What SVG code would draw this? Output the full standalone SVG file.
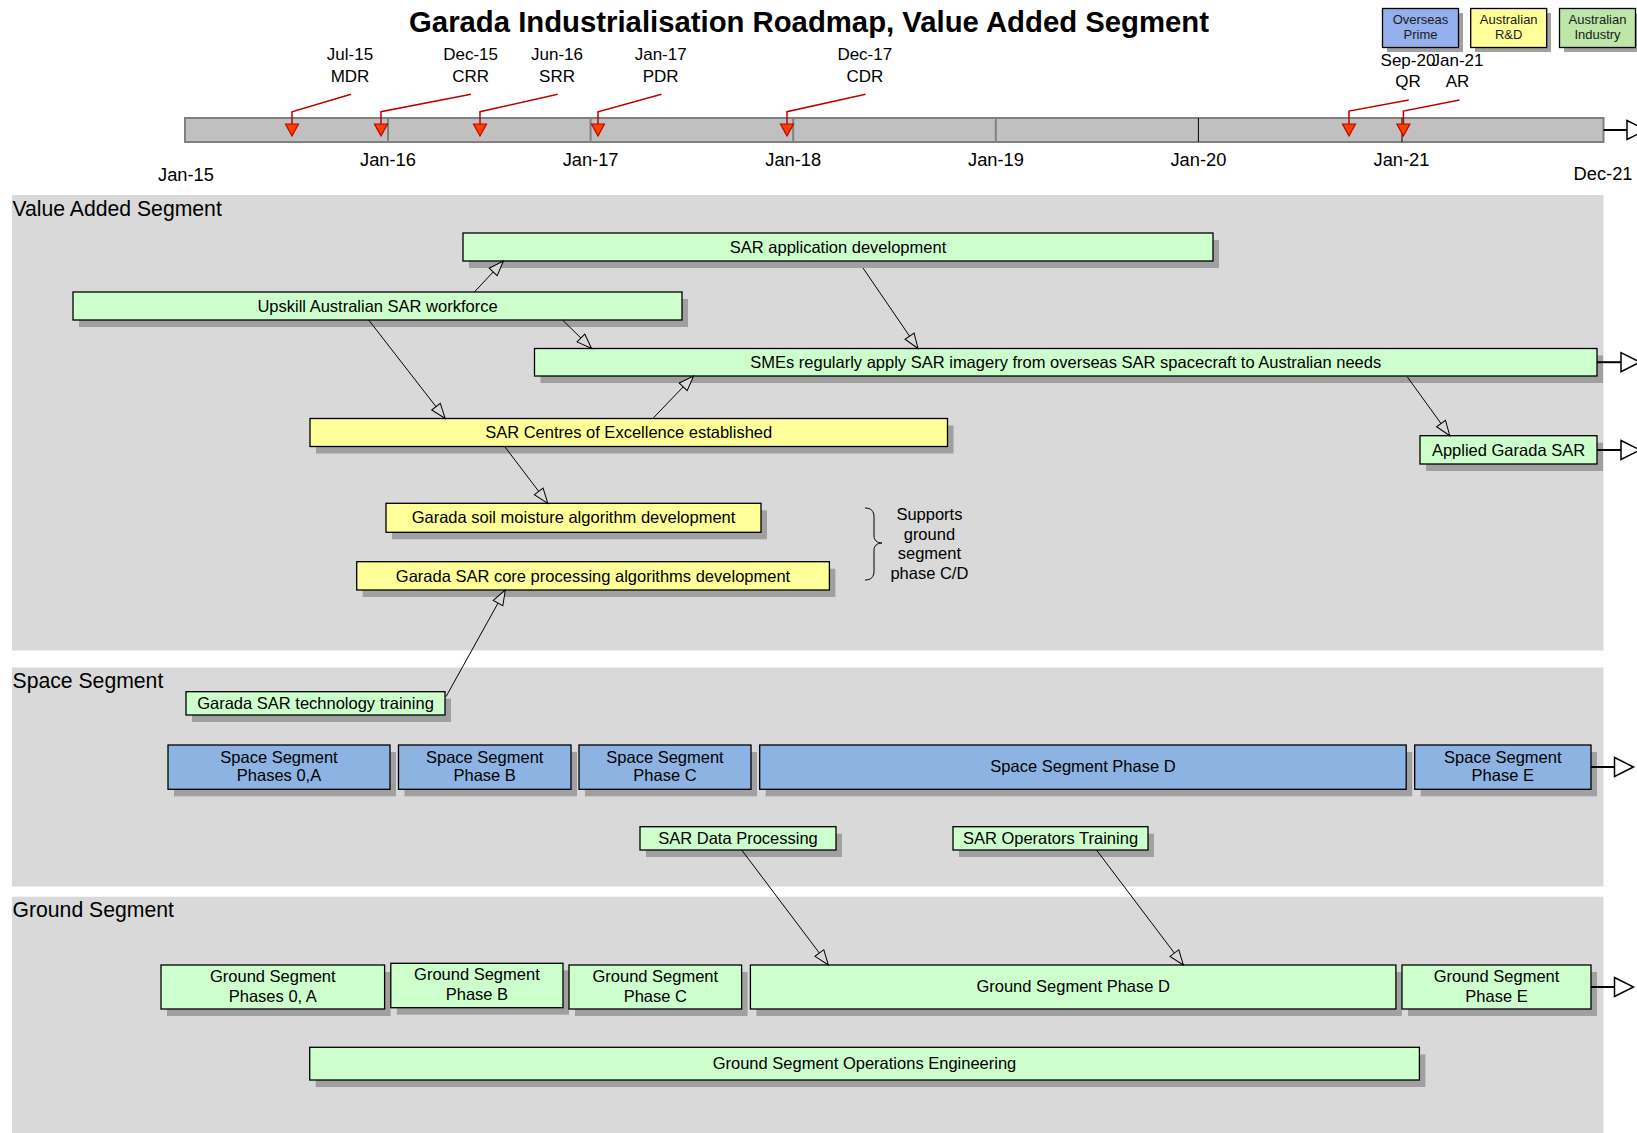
<svg xmlns="http://www.w3.org/2000/svg" width="1637" height="1133" viewBox="0 0 1637 1133">
<style>
text{font-family:"Liberation Sans",Arial,sans-serif;fill:#000}
.t{font-size:16.5px;text-anchor:middle}
.yl{font-size:18.3px;text-anchor:middle}
.ml{font-size:17px;text-anchor:middle}
.lg{font-size:13px;text-anchor:middle;fill:#1a1a1a}
.ln{font-size:21.2px}
.lane{fill:#d9d9d9}
.sh{fill:#a0a0a0}
.g{fill:#ccffcc;stroke:#000;stroke-width:1.3}
.y{fill:#ffff99;stroke:#000;stroke-width:1.3}
.b{fill:#8db3e2;stroke:#000;stroke-width:1.3}
.c{stroke:#000;stroke-width:1;fill:none;marker-end:url(#oa)}
.e{stroke:#000;stroke-width:2;fill:none;marker-end:url(#ba)}
.tri{fill:#ff4000;stroke:#c00000;stroke-width:1.2}
.ld{fill:none;stroke:#c00000;stroke-width:1.5}
.dv{stroke:#808080;stroke-width:2}
.dk{stroke:#000;stroke-width:1}
</style>
<defs>
<marker id="oa" markerUnits="userSpaceOnUse" markerWidth="18" markerHeight="14" refX="15.5" refY="6" orient="auto" overflow="visible">
<path d="M0.5,0.5 L15.5,6 L0.5,11.5 Z" fill="#d9d9d9" stroke="#000" stroke-width="1"/>
</marker>
<marker id="ba" markerUnits="userSpaceOnUse" markerWidth="22" markerHeight="22" refX="0" refY="10" orient="auto" overflow="visible">
<path d="M0,0.5 L19,10 L0,19.5 Z" fill="#fff" stroke="#000" stroke-width="1.5"/>
</marker>
</defs>
<rect width="1637" height="1133" fill="#fff"/>

<text x="809" y="31.5" font-size="29.3" font-weight="bold" text-anchor="middle">Garada Industrialisation Roadmap, Value Added Segment</text>

<g id="legend">
<g id="legend-overseas"><rect class="sh" x="1387" y="13" width="76" height="39"/><rect x="1382.5" y="8.5" width="76" height="39" fill="#94b0ee" stroke="#000" stroke-width="1.3"/><text class="lg" x="1420.5" y="24">Overseas</text><text class="lg" x="1420.5" y="38.5">Prime</text></g>
<g id="legend-rd"><rect class="sh" x="1475" y="13" width="76" height="39"/><rect x="1470.7" y="8.5" width="76" height="39" fill="#ffff99" stroke="#000" stroke-width="1.3"/><text class="lg" x="1508.7" y="24">Australian</text><text class="lg" x="1508.7" y="38.5">R&amp;D</text></g>
<g id="legend-industry"><rect class="sh" x="1564" y="13" width="76" height="39"/><rect x="1559.5" y="8.5" width="76" height="39" fill="#bde6a8" stroke="#000" stroke-width="1.3"/><text class="lg" x="1597.5" y="24">Australian</text><text class="lg" x="1597.5" y="38.5">Industry</text></g>
</g>

<g id="timeline">
<rect x="185" y="118" width="1418.5" height="24" fill="#c0c0c0" stroke="#808080" stroke-width="2"/>
<line class="dv" x1="388" y1="118" x2="388" y2="142"/>
<line class="dv" x1="590.6" y1="118" x2="590.6" y2="142"/>
<line class="dv" x1="793.2" y1="118" x2="793.2" y2="142"/>
<line class="dv" x1="995.8" y1="118" x2="995.8" y2="142"/>
<line class="dk" x1="1198.4" y1="118" x2="1198.4" y2="142"/>
<line class="dk" x1="1402" y1="118" x2="1402" y2="142"/>
<text class="yl" x="186" y="180.7">Jan-15</text>
<text class="yl" x="388" y="166">Jan-16</text>
<text class="yl" x="590.6" y="166">Jan-17</text>
<text class="yl" x="793.2" y="166">Jan-18</text>
<text class="yl" x="996" y="166">Jan-19</text>
<text class="yl" x="1198.4" y="166">Jan-20</text>
<text class="yl" x="1401.5" y="166">Jan-21</text>
<text class="yl" x="1603" y="180">Dec-21</text>
</g>

<g id="milestones">
<g id="ms-mdr"><polyline class="ld" points="351,94.3 292,111.7 292,124"/><polygon class="tri" points="285.5,124 298.5,124 292,136"/><text class="ml" x="350" y="60">Jul-15</text><text class="ml" x="350" y="81.7">MDR</text></g>
<g id="ms-crr"><polyline class="ld" points="471,94.3 381,111.7 381,124"/><polygon class="tri" points="374.5,124 387.5,124 381,136"/><text class="ml" x="470.6" y="60">Dec-15</text><text class="ml" x="470.6" y="81.7">CRR</text></g>
<g id="ms-srr"><polyline class="ld" points="557.7,94.3 480,111.7 480,124"/><polygon class="tri" points="473.5,124 486.5,124 480,136"/><text class="ml" x="557" y="60">Jun-16</text><text class="ml" x="557" y="81.7">SRR</text></g>
<g id="ms-pdr"><polyline class="ld" points="661.5,94.3 598,111.7 598,124"/><polygon class="tri" points="591.5,124 604.5,124 598,136"/><text class="ml" x="660.7" y="60">Jan-17</text><text class="ml" x="660.7" y="81.7">PDR</text></g>
<g id="ms-cdr"><polyline class="ld" points="865.6,94.3 787,111.7 787,124"/><polygon class="tri" points="780.5,124 793.5,124 787,136"/><text class="ml" x="864.8" y="60">Dec-17</text><text class="ml" x="864.8" y="81.7">CDR</text></g>
<g id="ms-qr"><polyline class="ld" points="1408.8,100 1349,111 1349,124"/><polygon class="tri" points="1342.5,124 1355.5,124 1349,136"/><text class="ml" x="1408" y="65.7">Sep-20</text><text class="ml" x="1408" y="87.3">QR</text></g>
<g id="ms-ar"><polyline class="ld" points="1459.5,100 1403.4,111 1403.4,124"/><polygon class="tri" points="1396.9,124 1409.9,124 1403.4,136"/><text class="ml" x="1457.5" y="65.7">Jan-21</text><text class="ml" x="1457.5" y="87.3">AR</text></g>
</g>

<g id="lanes">
<g id="lane-va"><rect class="lane" x="12" y="195" width="1591.5" height="455.5"/><text class="ln" x="12.5" y="215.5">Value Added Segment</text></g>
<g id="lane-space"><rect class="lane" x="12" y="667.5" width="1591.5" height="219"/><text class="ln" x="12.5" y="687.5">Space Segment</text></g>
<g id="lane-ground"><rect class="lane" x="12" y="896.7" width="1591.5" height="236.3"/><text class="ln" x="12.5" y="917">Ground Segment</text></g>
</g>

<g id="n-appdev"><rect class="sh" x="469" y="240" width="750" height="28"/><rect class="g" x="463" y="233" width="750" height="28"/><text class="t" x="838" y="252.5">SAR application development</text></g>
<g id="n-upskill"><rect class="sh" x="79" y="299" width="609" height="28"/><rect class="g" x="73" y="292" width="609" height="28"/><text class="t" x="377.5" y="311.5">Upskill Australian SAR workforce</text></g>
<g id="n-smes"><rect class="sh" x="540.5" y="355.5" width="1062.5" height="27.5"/><rect class="g" x="534.5" y="348.5" width="1062.5" height="27.5"/><text class="t" x="1065.7" y="367.5">SMEs regularly apply SAR imagery from overseas SAR spacecraft to Australian needs</text></g>
<g id="n-coe"><rect class="sh" x="316" y="425.5" width="637.5" height="28"/><rect class="y" x="310" y="418.5" width="637.5" height="28"/><text class="t" x="628.7" y="438">SAR Centres of Excellence established</text></g>
<g id="n-applied"><rect class="sh" x="1426" y="442.7" width="177" height="28.3"/><rect class="g" x="1420" y="435.7" width="177" height="28.3"/><text class="t" x="1508.5" y="455.5">Applied Garada SAR</text></g>
<g id="n-soil"><rect class="sh" x="392" y="510.3" width="375" height="29"/><rect class="y" x="386" y="503.3" width="375" height="29"/><text class="t" x="573.5" y="523.3">Garada soil moisture algorithm development</text></g>
<g id="n-core"><rect class="sh" x="362.7" y="568.7" width="472.7" height="28.3"/><rect class="y" x="356.7" y="561.7" width="472.7" height="28.3"/><text class="t" x="593" y="581.5">Garada SAR core processing algorithms development</text></g>
<g id="n-brace">
<path d="M865,508 C871,508 874,511 874,517 L874,536 C874,540 877,543 882,543 C877,543 874,546 874,550 L874,571 C874,577 871,580 865,580" fill="none" stroke="#000" stroke-width="1"/>
<text class="t" x="929.4" y="519.5">Supports</text><text class="t" x="929.4" y="539.5">ground</text><text class="t" x="929.4" y="559">segment</text><text class="t" x="929.4" y="578.7">phase C/D</text>
</g>

<g id="n-training"><rect class="sh" x="192" y="698.7" width="259" height="23.3"/><rect class="g" x="186" y="691.7" width="259" height="23.3"/><text class="t" x="315.5" y="709">Garada SAR technology training</text></g>
<g id="n-ss0a"><rect class="sh" x="174" y="752" width="222" height="44.3"/><rect class="b" x="168" y="745" width="222" height="44.3"/><text class="t" x="279" y="762.5">Space Segment</text><text class="t" x="279" y="781">Phases 0,A</text></g>
<g id="n-ssb"><rect class="sh" x="404.5" y="752" width="172.5" height="44.3"/><rect class="b" x="398.5" y="745" width="172.5" height="44.3"/><text class="t" x="484.7" y="762.5">Space Segment</text><text class="t" x="484.7" y="781">Phase B</text></g>
<g id="n-ssc"><rect class="sh" x="585" y="752" width="172" height="44.3"/><rect class="b" x="579" y="745" width="172" height="44.3"/><text class="t" x="665" y="762.5">Space Segment</text><text class="t" x="665" y="781">Phase C</text></g>
<g id="n-ssd"><rect class="sh" x="765.7" y="752" width="646.5" height="44.3"/><rect class="b" x="759.7" y="745" width="646.5" height="44.3"/><text class="t" x="1083" y="772">Space Segment Phase D</text></g>
<g id="n-sse"><rect class="sh" x="1420.7" y="752" width="176.3" height="44.3"/><rect class="b" x="1414.7" y="745" width="176.3" height="44.3"/><text class="t" x="1502.8" y="762.5">Space Segment</text><text class="t" x="1502.8" y="781">Phase E</text></g>
<g id="n-dataproc"><rect class="sh" x="646" y="833.7" width="196" height="23.3"/><rect class="g" x="640" y="826.7" width="196" height="23.3"/><text class="t" x="738" y="844">SAR Data Processing</text></g>
<g id="n-opstrain"><rect class="sh" x="959" y="833.7" width="195" height="23.3"/><rect class="g" x="953" y="826.7" width="195" height="23.3"/><text class="t" x="1050.5" y="844">SAR Operators Training</text></g>

<g id="n-gs0a"><rect class="sh" x="167" y="972" width="223.6" height="44"/><rect class="g" x="161" y="965" width="223.6" height="44"/><text class="t" x="272.8" y="981.7">Ground Segment</text><text class="t" x="272.8" y="1001.5">Phases 0, A</text></g>
<g id="n-gsb"><rect class="sh" x="396.8" y="970.3" width="172.2" height="44.4"/><rect class="g" x="390.8" y="963.3" width="172.2" height="44.4"/><text class="t" x="476.9" y="979.8">Ground Segment</text><text class="t" x="476.9" y="999.5">Phase B</text></g>
<g id="n-gsc"><rect class="sh" x="575" y="972" width="172.6" height="44"/><rect class="g" x="569" y="965" width="172.6" height="44"/><text class="t" x="655.3" y="981.7">Ground Segment</text><text class="t" x="655.3" y="1001.5">Phase C</text></g>
<g id="n-gsd"><rect class="sh" x="756.4" y="972" width="645.5" height="44"/><rect class="g" x="750.4" y="965" width="645.5" height="44"/><text class="t" x="1073.2" y="991.5">Ground Segment Phase D</text></g>
<g id="n-gse"><rect class="sh" x="1408" y="972" width="189" height="44"/><rect class="g" x="1402" y="965" width="189" height="44"/><text class="t" x="1496.5" y="981.7">Ground Segment</text><text class="t" x="1496.5" y="1001.5">Phase E</text></g>
<g id="n-gsops"><rect class="sh" x="315.7" y="1054.3" width="1109.7" height="32.7"/><rect class="g" x="309.7" y="1047.3" width="1109.7" height="32.7"/><text class="t" x="864.5" y="1069">Ground Segment Operations Engineering</text></g>

<g id="connectors">
<line class="c" x1="474.4" y1="292" x2="503.4" y2="261"/>
<line class="c" x1="562.5" y1="320" x2="591.6" y2="348.5"/>
<line class="c" x1="368.7" y1="320" x2="445.2" y2="418.5"/>
<line class="c" x1="652.8" y1="418.5" x2="693.6" y2="376"/>
<line class="c" x1="863" y1="268" x2="918" y2="348.5"/>
<line class="c" x1="1407.4" y1="377" x2="1449.8" y2="435.7"/>
<line class="c" x1="505" y1="447" x2="547.8" y2="503.3"/>
<line class="c" x1="446" y1="696.7" x2="505.3" y2="590"/>
<line class="c" x1="741.7" y1="850" x2="828.4" y2="965"/>
<line class="c" x1="1096.5" y1="850" x2="1183.4" y2="965"/>
<line class="e" x1="1603.5" y1="130" x2="1627" y2="130"/>
<line class="e" x1="1597" y1="362.2" x2="1621" y2="362.2"/>
<line class="e" x1="1597" y1="450" x2="1621" y2="450"/>
<line class="e" x1="1591" y1="767" x2="1614.5" y2="767"/>
<line class="e" x1="1591" y1="987" x2="1614.5" y2="987"/>
</g>
</svg>
